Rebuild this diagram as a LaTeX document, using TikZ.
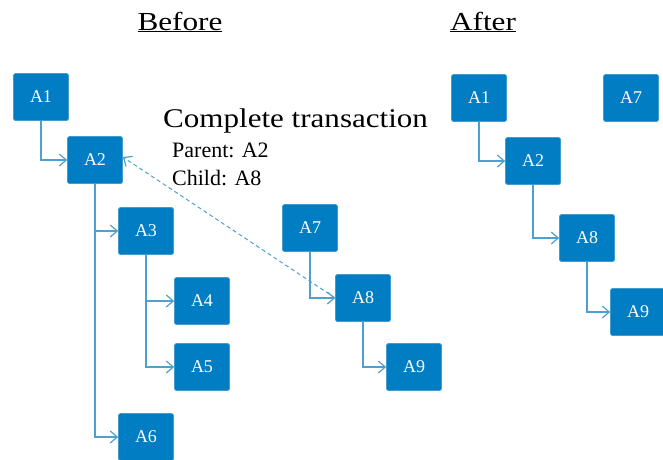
\documentclass[tikz,border=0pt]{standalone}
\usepackage{fontspec}
\setmainfont{Liberation Serif}
\newfontfamily\headfont[FakeStretch=1.2]{Liberation Serif}
\newfontfamily\titlefont[FakeStretch=1.15]{Liberation Serif}
\usetikzlibrary{arrows.meta}
\definecolor{boxblue}{RGB}{0,125,195}
\definecolor{edgeblue}{RGB}{70,155,205}
\definecolor{linkblue}{RGB}{80,160,205}

\begin{document}
\begin{tikzpicture}[x=1pt, y=-1pt,
    item/.style={draw=edgeblue, line width=0.6pt, fill=boxblue, rounded corners=1.5pt,
      minimum width=55pt, minimum height=47pt, inner sep=0pt,
      text=white, font=\fontsize{18}{18}\selectfont},
    link/.style={draw=linkblue, line width=1.3pt,
      -{Straight Barb[length=7pt, width=12pt, line width=1.2pt]}},
    moved/.style={link, line width=1pt, dash pattern=on 4pt off 3pt}]
  \useasboundingbox (0,0) rectangle (663,459);
  % Before
  \node[font=\headfont\fontsize{26}{26}\selectfont] (before) at (180,22) {\underline{Before}};
  \node[item] (b1) at (41,97) {A1};
  \node[item] (b2) at (95,160) {A2};
  \node[item] (b3) at (146,231) {A3};
  \node[item] (b4) at (202,301) {A4};
  \node[item] (b5) at (202,367) {A5};
  \node[item] (b6) at (146,437) {A6};
  \node[item] (b7) at (310,228) {A7};
  \node[item] (b8) at (363,298) {A8};
  \node[item] (b9) at (414,367) {A9};
  \draw[link] (b1.south) |- (b2.west);
  \draw[link] (b2.south) |- (b3.west);
  \draw[link] (b2.south) |- (b6.west);
  \draw[link] (b3.south) |- (b4.west);
  \draw[link] (b3.south) |- (b5.west);
  \draw[link] (b7.south) |- (b8.west);
  \draw[link] (b8.south) |- (b9.west);
  \draw[moved] (b8.west) -- ([yshift=3pt]b2.east);
  % transaction
  \node[anchor=base west, inner sep=0pt, font=\titlefont\fontsize{27}{27}\selectfont] (trans) at (163,127) {Complete transaction};
  \node[anchor=base west, inner sep=0pt, font=\fontsize{22}{22}\selectfont] (parent) at (172,157) {Parent: A2};
  \node[anchor=base west, inner sep=0pt, font=\fontsize{22}{22}\selectfont] (child) at (172,185) {Child: A8};
  % After
  \node[font=\headfont\fontsize{26}{26}\selectfont] (after) at (483,22) {\underline{After}};
  \node[item] (a1) at (479,98) {A1};
  \node[item] (a7) at (631,98) {A7};
  \node[item] (a2) at (533,161) {A2};
  \node[item] (a8) at (587,238) {A8};
  \node[item] (a9) at (638,312) {A9};
  \draw[link] (a1.south) |- (a2.west);
  \draw[link] (a2.south) |- (a8.west);
  \draw[link] (a8.south) |- (a9.west);
\end{tikzpicture}
\end{document}
